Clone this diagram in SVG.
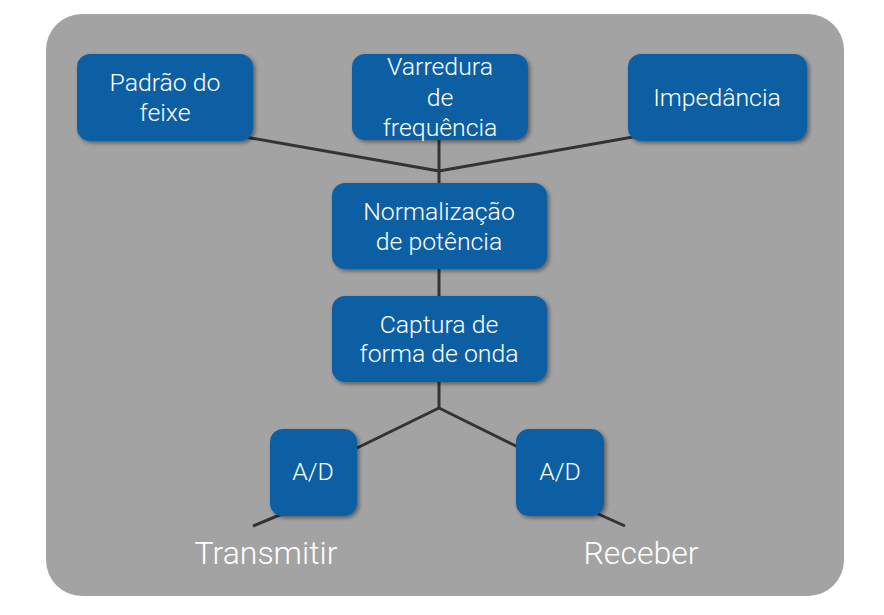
<svg xmlns="http://www.w3.org/2000/svg" width="884" height="615" viewBox="0 0 884 615">
<defs>
<filter id="sh" x="-20%" y="-20%" width="140%" height="140%">
<feGaussianBlur in="SourceAlpha" stdDeviation="2"/>
<feOffset dx="2" dy="2" result="b"/>
<feComponentTransfer><feFuncA type="linear" slope="0.45"/></feComponentTransfer>
<feMerge><feMergeNode/><feMergeNode in="SourceGraphic"/></feMerge>
</filter>
</defs>
<style>
.box{fill:#0d5fa3;filter:url(#sh)}
.t{fill:#ffffff;font-family:Roboto,"Liberation Sans",sans-serif;font-weight:300;font-size:24.8px;text-anchor:middle}
.big{font-size:32px}
.ln{stroke:#333333;stroke-width:3;fill:none;stroke-linecap:butt}
</style>
<rect x="46" y="14" width="798" height="582" rx="36" fill="#a3a3a3"/>
<g id="connectors">
<line class="ln" x1="245" y1="137" x2="439" y2="171"/>
<line class="ln" x1="633" y1="137" x2="439" y2="171"/>
<line class="ln" x1="439" y1="138" x2="439" y2="184"/>
<line class="ln" x1="439" y1="268" x2="439" y2="297"/>
<line class="ln" x1="439" y1="380" x2="439" y2="408"/>
<line class="ln" x1="439" y1="408" x2="357" y2="448"/>
<line class="ln" x1="439" y1="408" x2="518" y2="447"/>
<line class="ln" x1="282" y1="514" x2="253" y2="526"/>
<line class="ln" x1="596" y1="513" x2="625" y2="526"/>
</g>
<g id="padrao">
<rect class="box" x="77" y="54" width="176" height="87" rx="13"/>
<text class="t" x="165" y="91">Padrão do</text>
<text class="t" x="165" y="121">feixe</text>
</g>
<g id="varredura">
<rect class="box" x="352" y="54" width="176" height="86" rx="13"/>
<text class="t" x="440" y="75">Varredura</text>
<text class="t" x="440" y="106">de</text>
<text class="t" x="440" y="136">frequência</text>
</g>
<g id="impedancia">
<rect class="box" x="628" y="54" width="179" height="87" rx="13"/>
<text class="t" x="717" y="106">Impedância</text>
</g>
<g id="normalizacao">
<rect class="box" x="332" y="183" width="215" height="86" rx="13"/>
<text class="t" x="439" y="220">Normalização</text>
<text class="t" x="439" y="250">de potência</text>
</g>
<g id="captura">
<rect class="box" x="332" y="296" width="215" height="86" rx="13"/>
<text class="t" x="439" y="333">Captura de</text>
<text class="t" x="439" y="362">forma de onda</text>
</g>
<g id="ad-left">
<rect class="box" x="270" y="429" width="87" height="87" rx="13"/>
<text class="t" x="313" y="480">A/D</text>
</g>
<g id="ad-right">
<rect class="box" x="516" y="429" width="88" height="87" rx="13"/>
<text class="t" x="560" y="480">A/D</text>
</g>
<g id="labels">
<text class="t big" x="266" y="564">Transmitir</text>
<text class="t big" x="641" y="564">Receber</text>
</g>
</svg>
